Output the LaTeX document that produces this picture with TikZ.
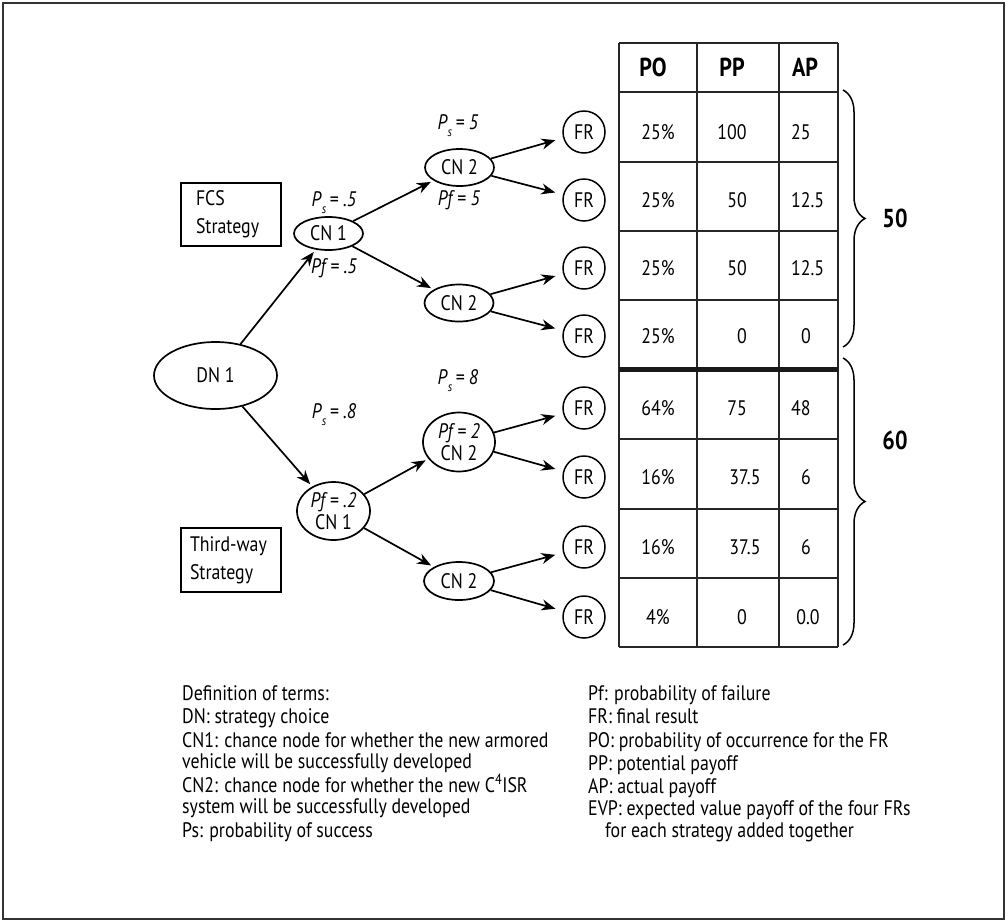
\documentclass[tikz,border=0pt]{standalone}
\usepackage{fontspec}
\setmainfont{PT Sans}[FakeStretch=0.85]
\usetikzlibrary{shapes.geometric,arrows.meta,decorations.pathreplacing}
\newcommand\probS[1]{\textit{P}\raisebox{-0.65ex}{\fontsize{13}{13}\selectfont\textit{s}}\,\textit{= #1}}
\begin{document}
\begin{tikzpicture}[x=1pt,y=-1pt,
  txt/.style={font=\fontsize{21}{23}\selectfont, inner sep=0pt, anchor=base west},
  ell/.style={ellipse, draw, line width=1.7pt, inner sep=0pt, font=\fontsize{21}{21}\selectfont, align=center},
  fr/.style={circle, draw, line width=1.5pt, minimum size=42pt, inner sep=0pt, font=\fontsize{21}{21}\selectfont},
  arr/.style={line width=1.7pt, -{Stealth[length=14pt,width=11pt]}, shorten >=3pt},
  arrfr/.style={arr, shorten >=8pt},
  sbox/.style={draw, line width=1.7pt, minimum width=100pt, inner sep=0pt, font=\fontsize{21}{28}\selectfont, align=left},
  prob/.style={font=\fontsize{21}{21}\selectfont, inner sep=0pt},
  hdr/.style={font=\fontsize{26}{26}\selectfont\bfseries, inner sep=0pt},
  cell/.style={font=\fontsize{21}{21}\selectfont, inner sep=0pt},
  tab/.style={line width=1.6pt, black!85},
  brc/.style={decorate, decoration={brace, amplitude=22pt}, line width=1.5pt},
  sum/.style={font=\fontsize{26}{26}\selectfont\bfseries, inner sep=0pt},
]
\useasboundingbox (0,0) rectangle (1006,922);
\draw[line width=2pt, black!80] (3,3) rectangle (1004,919);

% decision tree nodes
\node[ell, minimum width=123pt, minimum height=67pt] (dn) at (215.5,375.5) {DN 1};
\node[ell, minimum width=69pt, minimum height=33pt] (cn1a) at (328.5,233.5) {CN 1};
\node[ell, minimum width=73pt, minimum height=58pt] (cn1b) at (333.5,511) {\textit{Pf = .2}\\[1pt]CN 1};
\node[ell, minimum width=69pt, minimum height=37pt] (cn2a) at (459.5,167.5) {CN 2};
\node[ell, minimum width=69pt, minimum height=37pt] (cn2b) at (459,303) {CN 2};
\node[ell, minimum width=72pt, minimum height=59pt] (cn2c) at (459,442) {\textit{Pf = 2}\\[1pt]CN 2};
\node[ell, minimum width=70pt, minimum height=38pt] (cn2d) at (459,581) {CN 2};

\foreach \i/\y in {1/132,2/200,3/268,4/336,5/408,6/477,7/547,8/617}
  \node[fr] (fr\i) at (584,\y) {FR};

% strategy boxes
\node[sbox, minimum height=63pt, text width=70pt] (fcs) at (231,214.5) {FCS\\Strategy};
\node[sbox, minimum height=64pt, text width=82pt] (tw) at (231,560) {Third-way\\Strategy};

% probability labels
\node[prob] (ps1) at (334,203) {\probS{.5}};
\node[prob] (pf1) at (334,268) {\textit{Pf = .5}};
\node[prob] (ps2) at (458,126) {\probS{5}};
\node[prob] (pf2) at (459,200) {\textit{Pf = 5}};
\node[prob] (ps3) at (334,415) {\probS{.8}};
\node[prob] (ps4) at (458,381) {\probS{8}};

% connectors
\draw[arr] (dn) -- (cn1a);
\draw[arr] (dn) -- (cn1b);
\draw[arr] (cn1a) -- (cn2a);
\draw[arr] (cn1a) -- (cn2b);
\draw[arr] (cn1b) -- (cn2c);
\draw[arr] (cn1b) -- (cn2d);
\draw[arrfr] (cn2a) -- (fr1);
\draw[arrfr] (cn2a) -- (fr2);
\draw[arrfr] (cn2b) -- (fr3);
\draw[arrfr] (cn2b) -- (fr4);
\draw[arrfr] (cn2c) -- (fr5);
\draw[arrfr] (cn2c) -- (fr6);
\draw[arrfr] (cn2d) -- (fr7);
\draw[arrfr] (cn2d) -- (fr8);

% table
\foreach \x in {619,697,779,838} \draw[tab] (\x,43) -- (\x,647);
\foreach \y in {43,92,162,231,300,439,509,578,647} \draw[tab] (619,\y) -- (838,\y);
\draw[line width=4.5pt, black!90] (619,369.5) -- (838,369.5);

\node[hdr] (hpo) at (653,67.5) {PO};
\node[hdr] (hpp) at (732,67.5) {PP};
\node[hdr] (hap) at (805,67.5) {AP};

\foreach \i/\y/\po/\pp/\ppx in {1/132/25\%/100/732,2/200/25\%/50/737,3/268/25\%/50/737,4/336/25\%/0/742,
  5/408/64\%/75/737,6/477/16\%/37.5/745,7/547/16\%/37.5/745,8/617/4\%/0/742}{
  \node[cell] (po\i) at (658,\y) {\po};
  \node[cell] (pp\i) at (\ppx,\y) {\pp};
}
\node[cell, anchor=west] (ap1) at (791,132) {25};
\node[cell, anchor=west] (ap2) at (791,200) {12.5};
\node[cell, anchor=west] (ap3) at (791,268) {12.5};
\node[cell] (ap4) at (806,336) {0};
\node[cell, anchor=west] (ap5) at (791,408) {48};
\node[cell] (ap6) at (806,477) {6};
\node[cell] (ap7) at (806,547) {6};
\node[cell] (ap8) at (808,617) {0.0};

% braces
\draw[brc] (843,90) -- (843,347);
\draw[brc] (843,358) -- (843,645);
\node[sum] (s50) at (895,218) {50};
\node[sum] (s60) at (895,440) {60};

% legend
\node[txt] (l1) at (182,700) {Definition of terms:};
\node[txt] (l2) at (182,723) {DN: strategy choice};
\node[txt] (l3) at (182,747) {CN1: chance node for whether the new armored};
\node[txt] (l4) at (182,768) {vehicle will be successfully developed};
\node[txt] (l5) at (182,792) {CN2: chance node for whether the new C\textsuperscript{4}ISR};
\node[txt] (l6) at (182,813) {system will be successfully developed};
\node[txt] (l7) at (182,837) {Ps: probability of success};
\node[txt] (r1) at (588,700) {Pf: probability of failure};
\node[txt] (r2) at (588,723) {FR: final result};
\node[txt] (r3) at (588,747) {PO: probability of occurrence for the FR};
\node[txt] (r4) at (588,770) {PP: potential payoff};
\node[txt] (r5) at (588,793) {AP: actual payoff};
\node[txt] (r6) at (588,815) {EVP: expected value payoff of the four FRs};
\node[txt] (r7) at (605,837) {for each strategy added together};
\end{tikzpicture}
\end{document}
